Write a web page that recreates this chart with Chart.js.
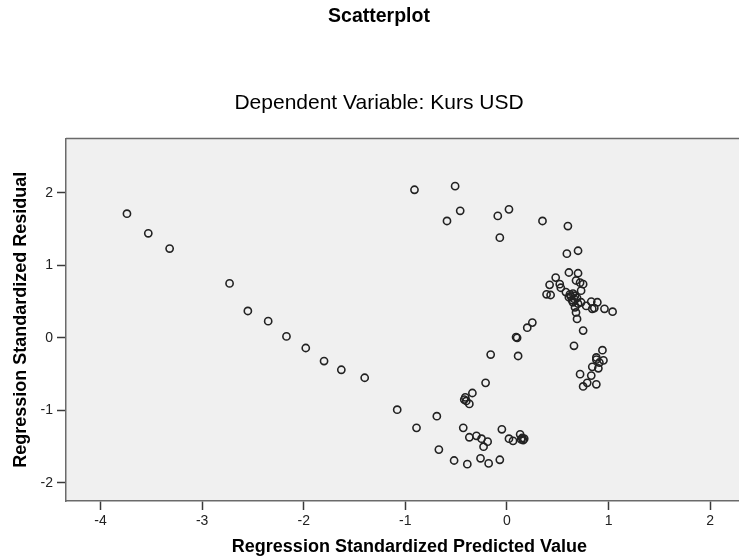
<!DOCTYPE html>
<html>
<head>
<meta charset="utf-8">
<title>Scatterplot</title>
<script src="https://cdn.jsdelivr.net/npm/chart.js@4/dist/chart.umd.min.js"></script>
<style>
    html, body { margin: 0; padding: 0; background: #fff; overflow: hidden; }
    #wrap { width: 758px; height: 558px; }
</style>
</head>
<body>
<div id="wrap"><canvas id="chart" width="758" height="558"></canvas></div>
<script>
// Regression Standardized Predicted Value (x) / Residual (y)
const predictedValues = [
    -3.74, -3.53, -3.32, -2.73, -2.55, -2.35, -2.17, -1.98, -1.80, -1.63,
    -1.40, -1.08, -0.89, -0.69, -0.67, -0.52, -0.39, -0.43, -0.37, -0.30,
    -0.25, -0.19, -0.23, -0.26, -0.18, -0.07, -0.05, 0.02, 0.06, 0.13,
    0.15, 0.16, 0.14, 0.17, -0.41, -0.40, -0.37, -0.42, -0.34, -0.21,
    -0.16, 0.09, 0.10, 0.11, 0.20, 0.25, -0.91, -0.51, -0.46, -0.59,
    -0.09, 0.02, -0.07, 0.35, 0.60, 0.59, 0.70, 0.61, 0.70, 0.48,
    0.42, 0.52, 0.53, 0.39, 0.43, 0.58, 0.68, 0.72, 0.75, 0.73,
    0.65, 0.61, 0.66, 0.65, 0.70, 0.67, 0.73, 0.68, 0.69, 0.78,
    0.83, 0.84, 0.86, 0.89, 0.96, 1.04, 0.75, 0.66, 0.72, 0.75,
    0.79, 0.83, 0.84, 0.88, 0.88, 0.90, 0.91, 0.94, 0.95, 0.88,
    0.63, 0.67, 0.64, 0.69, 0.62
];
const residualValues = [
    1.71, 1.44, 1.23, 0.75, 0.37, 0.23, 0.02, -0.14, -0.32, -0.44,
    -0.55, -0.99, -1.24, -1.08, -1.54, -1.69, -1.74, -1.24, -1.37, -1.35,
    -1.39, -1.43, -1.50, -1.66, -1.73, -1.68, -1.26, -1.39, -1.42, -1.33,
    -1.38, -1.41, -1.40, -1.39, -0.82, -0.87, -0.91, -0.85, -0.76, -0.62,
    -0.23, 0.01, 0.00, -0.25, 0.14, 0.21, 2.04, 2.09, 1.75, 1.61,
    1.68, 1.77, 1.38, 1.61, 1.54, 1.16, 1.20, 0.90, 0.89, 0.83,
    0.73, 0.74, 0.69, 0.60, 0.59, 0.63, 0.79, 0.76, 0.74, 0.65,
    0.61, 0.56, 0.54, 0.49, 0.47, 0.42, 0.49, 0.35, 0.26, 0.44,
    0.50, 0.40, 0.41, 0.49, 0.40, 0.36, 0.10, -0.11, -0.50, -0.67,
    -0.62, -0.52, -0.40, -0.64, -0.30, -0.42, -0.34, -0.17, -0.31, -0.27,
    0.57, 0.58, 0.52, 0.55, 0.60
];

const xRange = [-4.34, 2.42];
const yRange = [-2.248, 2.745];

const FONT = "'Liberation Sans', Arial, sans-serif";
const FRAME_COLOR = '#6a6a6a';
const TICK_COLOR = '#3a3a3a';

// Grey plot background plus the top edge of the frame
const plotFrame = {
    id: 'plotFrame',
    beforeDraw(chart) {
        const { ctx, chartArea: a } = chart;
        ctx.save();
        ctx.fillStyle = '#f0f0f0';
        ctx.fillRect(a.left, a.top, a.right - a.left, a.bottom - a.top);
        ctx.strokeStyle = FRAME_COLOR;
        ctx.lineWidth = 1.5;
        ctx.beginPath();
        ctx.moveTo(a.left, a.top);
        ctx.lineTo(a.right, a.top);
        ctx.stroke();
        ctx.restore();
    }
};

const points = predictedValues.map((x, i) => ({ x, y: residualValues[i] }));

new Chart(document.getElementById('chart'), {
    type: 'scatter',
    data: {
        datasets: [{
            data: points,
            pointStyle: 'circle',
            pointRadius: 3.6,
            pointBorderWidth: 1.6,
            pointBorderColor: '#222',
            pointBackgroundColor: 'rgba(0,0,0,0)',
            pointHoverRadius: 3.6
        }]
    },
    options: {
        responsive: false,
        animation: false,
        layout: { padding: 0 },
        plugins: {
            legend: { display: false },
            tooltip: { enabled: false },
            title: {
                display: true,
                text: 'Scatterplot',
                color: '#000',
                font: { family: FONT, size: 19.5, weight: 'bold', lineHeight: 1.2 },
                padding: { top: 5, bottom: 0 }
            },
            subtitle: {
                display: true,
                text: 'Dependent Variable: Kurs USD',
                color: '#000',
                font: { family: FONT, size: 21, weight: 'normal', lineHeight: 1.2 },
                padding: { top: 62.6, bottom: 22.4 }
            }
        },
        scales: {
            x: {
                type: 'linear',
                min: xRange[0],
                max: xRange[1],
                afterFit: s => { s.height = 57; },
                border: { display: true, color: FRAME_COLOR, width: 1.5 },
                grid: {
                    drawOnChartArea: false,
                    drawTicks: true,
                    tickLength: 9,
                    tickColor: TICK_COLOR,
                    tickWidth: 1.5
                },
                ticks: {
                    stepSize: 1,
                    includeBounds: false,
                    padding: 3,
                    color: '#222',
                    font: { family: FONT, size: 14 }
                },
                title: {
                    display: true,
                    text: 'Regression Standardized Predicted Value',
                    color: '#000',
                    font: { family: FONT, size: 18, weight: 'bold', lineHeight: 1.2 },
                    padding: { top: 0, bottom: 0 }
                }
            },
            y: {
                type: 'linear',
                min: yRange[0],
                max: yRange[1],
                afterFit: s => { s.width = 66; },
                border: { display: true, color: FRAME_COLOR, width: 1.5 },
                grid: {
                    drawOnChartArea: false,
                    drawTicks: true,
                    tickLength: 9,
                    tickColor: TICK_COLOR,
                    tickWidth: 1.5
                },
                ticks: {
                    stepSize: 1,
                    includeBounds: false,
                    padding: 4,
                    color: '#222',
                    font: { family: FONT, size: 14 }
                },
                title: {
                    display: true,
                    text: 'Regression Standardized Residual',
                    color: '#000',
                    font: { family: FONT, size: 18, weight: 'bold', lineHeight: 1.2 },
                    padding: { top: 10, bottom: 0 }
                }
            }
        }
    },
    plugins: [plotFrame]
});
</script>
</body>
</html>
